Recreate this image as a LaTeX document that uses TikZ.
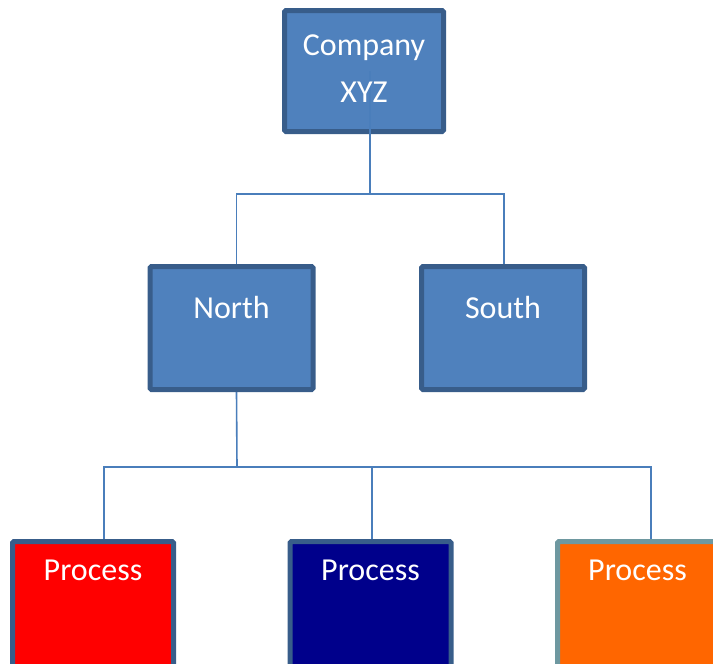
\documentclass[tikz,border=0pt]{standalone}
\usepackage{fontspec}
\setmainfont{Carlito}
\usetikzlibrary{backgrounds}

\definecolor{boxfill}{HTML}{4F81BD}
\definecolor{boxline}{HTML}{385D8A}
\definecolor{linkblue}{HTML}{4A7EBB}
\definecolor{procred}{HTML}{FF0000}
\definecolor{procblue}{HTML}{00008B}
\definecolor{procorange}{HTML}{FF6600}
\definecolor{orangeline}{HTML}{6E98A0}

\begin{document}
\begin{tikzpicture}
    [x=1pt,y=-1pt,
    box/.style={draw=boxline,line width=5pt,fill=boxfill,rounded corners=1.5pt,
        inner sep=0pt,text=white,font=\fontsize{32}{47}\selectfont},
    unit/.style={box,minimum width=163pt,text height=51.5pt,text depth=71.5pt},
    process/.style={box,minimum width=161pt,text height=38.5pt,text depth=121.5pt},
    link/.style={draw=linkblue,line width=1.6pt}]

\clip (0,0) rectangle (713,664);

%top box, its text goes on after the link
\node[box,minimum width=159pt,minimum height=121pt] (company) at (364,71) {};

%second level
\node[unit] (north) at (231.5,328) {North};
\node[unit] (south) at (503,328) {South};

%third level
\node[process,fill=procred] (procA) at (93,621.5) {Process};
\node[process,fill=procblue] (procB) at (370.5,621.5) {Process};
\node[process,fill=procorange,draw=orangeline,minimum width=160pt] (procC) at (637.5,621.5) {Process};

%bus points
\coordinate (bus1) at (370,194);
\coordinate (bus2) at (237,467);

\draw[link] ([xshift=6pt]company.center) -- (bus1);
\begin{pgfonlayer}{background}
\draw[link] ([xshift=5pt]north.north) |- (bus1);
\draw[link] ([xshift=1pt]south.north) |- (bus1);
\draw[link] ([xshift=5pt]north.south) -- (bus2);
\draw[link] (bus2) -| ([xshift=11pt]procA.north);
\draw[link] (bus2) -| ([xshift=1.5pt]procB.north);
\draw[link] (bus2) -| ([xshift=13.5pt]procC.north);
\end{pgfonlayer}

\node[anchor=base,align=center,text=white,font=\fontsize{32}{47}\selectfont]
    (companytext) at (364,102) {Company\\XYZ};

\end{tikzpicture}
\end{document}
